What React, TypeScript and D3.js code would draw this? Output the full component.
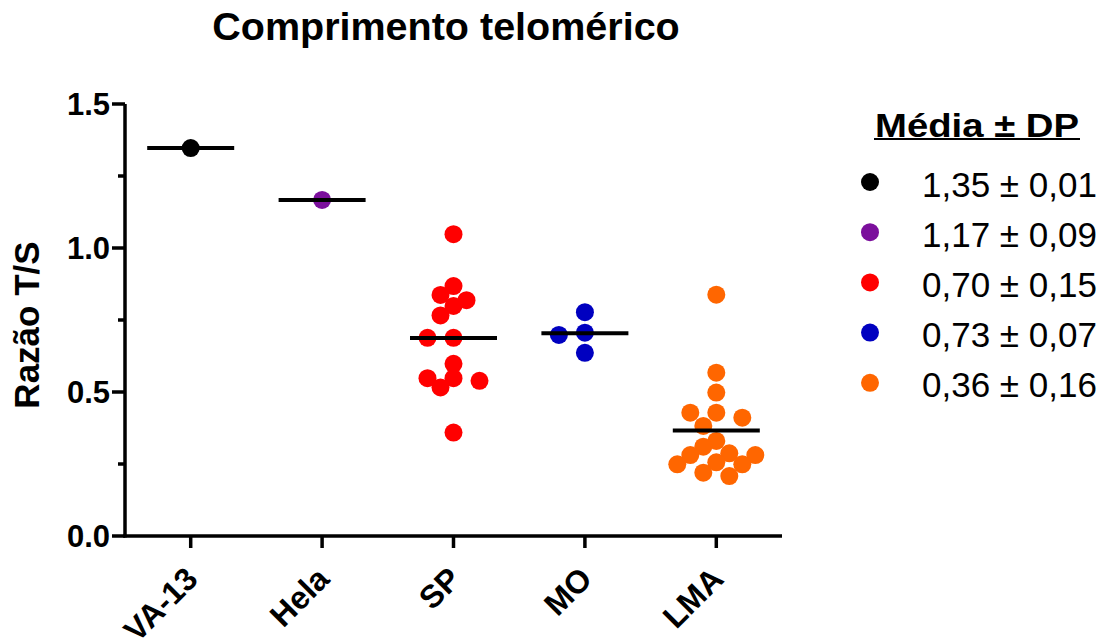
import React from 'react';
import * as d3 from 'd3';

// Groups along the x axis and their dot colours
const groups = ['VA-13', 'Hela', 'SP', 'MO', 'LMA'];
const groupColors = ['#000000', '#7b0f9c', '#ff0000', '#0000c0', '#ff6600'];

// T/S ratio per sample, one array per group
const va13 = [1.347];
const hela = [1.167];
const sp = [1.048, 0.868, 0.837, 0.819, 0.799, 0.766, 0.688, 0.688, 0.598, 0.548, 0.548, 0.539, 0.516, 0.359];
const mo = [0.777, 0.706, 0.698, 0.636];
const lma = [0.838, 0.567, 0.498, 0.428, 0.428, 0.411, 0.382, 0.330, 0.310, 0.287, 0.281, 0.281, 0.256, 0.249, 0.249, 0.220, 0.208];

// Legend text (mean ± SD per group)
const legendTitle = 'Média ± DP';
const legendLabels = ['1,35 ± 0,01', '1,17 ± 0,09', '0,70 ± 0,15', '0,73 ± 0,07', '0,36 ± 0,16'];

// Axis ticks
const yMajorTicks = [0, 0.5, 1.0, 1.5];
const yMinorTicks = [0.25, 0.75, 1.25];

const W = 1108;
const H = 641;
const FONT = '"Liberation Sans", Arial, Helvetica, sans-serif';

const x = d3.scaleBand<string>().domain(groups).range([125, 782]).paddingInner(0).paddingOuter(0);
const y = d3.scaleLinear().domain([0, 1.5]).range([536, 104]);

const DOT_R = 9;
const LANE = 13;
const MIN_DIST = 14;
const HALF_LINE = 43.5;

// Simple column-scatter layout: each value goes into the lane nearest the
// centre that keeps it clear of the dots already placed.
function swarm(values: number[]): number[] {
  const order = d3.range(values.length).sort((a, b) => values[b] - values[a]);
  const lanes = [0];
  for (let k = 1; k <= 8; k++) lanes.push(-k, k);
  const placed: { dx: number; py: number }[] = [];
  const out = new Array(values.length).fill(0);
  for (const i of order) {
    const py = y(values[i]);
    for (const lane of lanes) {
      const dx = lane * LANE;
      if (placed.every((p) => Math.hypot(p.dx - dx, p.py - py) >= MIN_DIST)) {
        out[i] = dx;
        placed.push({ dx, py });
        break;
      }
    }
  }
  return out;
}

export default function App() {
  const series = [va13, hela, sp, mo, lma];
  const half = x.bandwidth() / 2;

  return (
    <svg width={W} height={H} style={{ position: 'absolute', left: 0, top: 0, background: '#fff' }} fontFamily={FONT}>
      {/* Title */}
      <text x={446} y={40} textAnchor="middle" fontSize={39.5} fontWeight="bold">
        Comprimento telomérico
      </text>

      {/* Y axis */}
      <line x1={125} x2={125} y1={y(1.5)} y2={y(0) + 1.5} stroke="#000" strokeWidth={3.5} />
      {yMajorTicks.map((t) => (
        <g key={'M' + t}>
          <line x1={112} x2={125} y1={y(t)} y2={y(t)} stroke="#000" strokeWidth={3.5} />
          <text x={110} y={y(t)} dy="0.36em" textAnchor="end" fontSize={31} fontWeight="bold">
            {d3.format('.1f')(t)}
          </text>
        </g>
      ))}
      {yMinorTicks.map((t) => (
        <line key={'m' + t} x1={118} x2={125} y1={y(t)} y2={y(t)} stroke="#000" strokeWidth={3.5} />
      ))}
      <text transform={`translate(39,325) rotate(-90)`} textAnchor="middle" fontSize={35} fontWeight="bold">
        Razão T/S
      </text>

      {/* X axis */}
      <line x1={123.25} x2={782} y1={y(0)} y2={y(0)} stroke="#000" strokeWidth={3.5} />
      {groups.map((g) => {
        const cx = (x(g) as number) + half;
        return (
          <g key={'x' + g}>
            <line x1={cx} x2={cx} y1={y(0)} y2={y(0) + 12} stroke="#000" strokeWidth={3.5} />
            <text transform={`translate(${cx + 9},${581}) rotate(-45)`} textAnchor="end" fontSize={32} fontWeight="bold">
              {g}
            </text>
          </g>
        );
      })}

      {/* Dots */}
      {series.map((vals, gi) => {
        const cx = (x(groups[gi]) as number) + half;
        const offs = swarm(vals);
        return (
          <g key={'d' + gi} fill={groupColors[gi]}>
            {vals.map((v, i) => (
              <circle key={i} cx={cx + offs[i]} cy={y(v)} r={DOT_R} />
            ))}
          </g>
        );
      })}

      {/* Mean lines */}
      {series.map((vals, gi) => {
        const cx = (x(groups[gi]) as number) + half;
        const m = d3.mean(vals) as number;
        return (
          <line key={'l' + gi} x1={cx - HALF_LINE} x2={cx + HALF_LINE} y1={y(m)} y2={y(m)} stroke="#000" strokeWidth={4} />
        );
      })}

      {/* Legend */}
      <text x={875} y={136.5} fontSize={33} fontWeight="bold" textLength={204} lengthAdjust="spacingAndGlyphs">
        {legendTitle}
      </text>
      <line x1={874} x2={1080} y1={139} y2={139} stroke="#000" strokeWidth={2.2} />
      {legendLabels.map((lab, i) => {
        const ly = 182 + i * 50.2;
        return (
          <g key={'lg' + i}>
            <circle cx={870} cy={ly} r={DOT_R} fill={groupColors[i]} />
            <text x={922} y={ly + 14.5} fontSize={35}>
              {lab}
            </text>
          </g>
        );
      })}
    </svg>
  );
}
